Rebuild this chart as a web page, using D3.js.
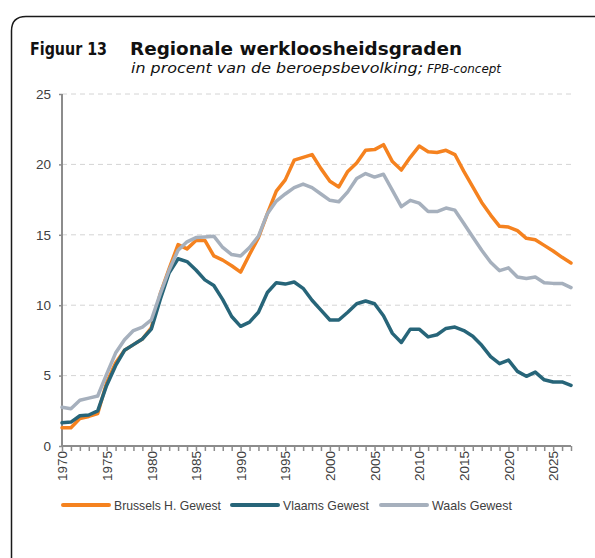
<!DOCTYPE html>
<html>
<head>
<meta charset="utf-8">
<script src="https://cdn.jsdelivr.net/npm/d3@7"></script>
<style>
  body { margin: 0; background: #fff; }
  svg { display: block; }
</style>
</head>
<body>
<div id="chart"></div>
<script>
// data, one value per year 1970-2027
var years = d3.range(1970, 2028);

var brussels = [1.3, 1.3, 1.95, 2.1, 2.3, 4.5, 5.9, 6.8, 7.2, 7.6,
  8.4, 10.8, 12.6, 14.3, 14.0, 14.6, 14.6, 13.5, 13.2, 12.8,
  12.35, 13.6, 14.8, 16.5, 18.1, 18.9, 20.3, 20.5, 20.7, 19.7,
  18.8, 18.4, 19.5, 20.1, 21.0, 21.05, 21.4, 20.2, 19.6, 20.5,
  21.3, 20.9, 20.85, 21.0, 20.7, 19.5, 18.4, 17.3, 16.4, 15.6,
  15.55, 15.3, 14.75, 14.65, 14.25, 13.85, 13.4, 13.0];

var vlaams = [1.65, 1.7, 2.15, 2.2, 2.5, 4.3, 5.7, 6.8, 7.2, 7.6,
  8.3, 10.4, 12.3, 13.3, 13.1, 12.5, 11.8, 11.4, 10.4, 9.2,
  8.5, 8.8, 9.5, 10.9, 11.6, 11.5, 11.65, 11.2, 10.35, 9.65,
  8.95, 8.95, 9.5, 10.1, 10.3, 10.1, 9.25, 8.0, 7.35, 8.3,
  8.3, 7.75, 7.9, 8.35, 8.45, 8.2, 7.8, 7.15, 6.35, 5.85,
  6.1, 5.3, 4.95, 5.25, 4.7, 4.55, 4.55, 4.3];

var waals = [2.75, 2.65, 3.25, 3.4, 3.55, 5.1, 6.6, 7.55, 8.2, 8.45,
  8.95, 10.8, 12.5, 13.9, 14.5, 14.8, 14.85, 14.9, 14.1, 13.6,
  13.5, 14.1, 14.9, 16.5, 17.4, 17.9, 18.35, 18.6, 18.35, 17.9,
  17.45, 17.35, 18.05, 19.0, 19.35, 19.1, 19.3, 18.15, 17.0, 17.45,
  17.25, 16.65, 16.65, 16.9, 16.75, 15.8, 14.85, 13.9, 13.05, 12.45,
  12.65, 12.0, 11.9, 12.0, 11.6, 11.55, 11.55, 11.25];

var seriesNames = ["Brussels H. Gewest", "Vlaams Gewest", "Waals Gewest"];
var seriesColors = ["#f5821f", "#276579", "#a6b0bd"];
var yTicks = [0, 5, 10, 15, 20, 25];

var W = 595, H = 558;
var margin = { top: 94, right: 24, bottom: 112, left: 62 },
    width = W - margin.left - margin.right,
    height = H - margin.top - margin.bottom;

var svg = d3.select("#chart").append("svg")
    .attr("width", W)
    .attr("height", H);

// frame with rounded top-left corner
svg.append("path")
    .attr("d", "M11.5," + (H + 2) + " L11.5,31 Q11.5,16.5 26,16.5 L" + (W + 2) + ",16.5")
    .attr("fill", "none")
    .attr("stroke", "#1a1a1a")
    .attr("stroke-width", 1.5);

// title
svg.append("text")
    .attr("x", 30).attr("y", 55)
    .attr("textLength", 77).attr("lengthAdjust", "spacingAndGlyphs")
    .style("font-family", "DejaVu Sans Condensed, DejaVu Sans")
    .style("font-weight", "bold")
    .style("font-size", "17.5px")
    .attr("fill", "#111")
    .text("Figuur 13");
svg.append("text")
    .attr("x", 130).attr("y", 55)
    .attr("textLength", 332).attr("lengthAdjust", "spacingAndGlyphs")
    .style("font-family", "DejaVu Sans")
    .style("font-weight", "bold")
    .style("font-size", "18px")
    .attr("fill", "#111")
    .text("Regionale werkloosheidsgraden");
var sub = svg.append("text")
    .attr("x", 131).attr("y", 73)
    .style("font-family", "DejaVu Sans")
    .style("font-style", "italic")
    .style("font-size", "13.5px")
    .attr("fill", "#111");
sub.append("tspan").attr("textLength", 292).attr("lengthAdjust", "spacingAndGlyphs")
    .text("in procent van de beroepsbevolking;");
sub.append("tspan").attr("x", 427).style("font-size", "12px")
    .attr("textLength", 74).attr("lengthAdjust", "spacingAndGlyphs")
    .text("FPB-concept");

var g = svg.append("g")
    .attr("transform", "translate(" + margin.left + "," + margin.top + ")");

var x = d3.scaleLinear().domain([1970, 2027]).range([0, width]);
var y = d3.scaleLinear().domain([0, 25]).range([height, 0]);

// dashed gridlines
g.selectAll(".grid")
    .data(yTicks.filter(function (d) { return d > 0; }))
    .enter().append("line")
    .attr("x1", 0).attr("x2", width)
    .attr("y1", function (d) { return y(d); })
    .attr("y2", function (d) { return y(d); })
    .attr("stroke", "#d4d4d4")
    .attr("stroke-width", 1)
    .attr("stroke-dasharray", "5,4");

// y axis
var yAxis = g.append("g")
    .call(d3.axisLeft(y).tickValues(yTicks).tickSize(3).tickPadding(8));
yAxis.select(".domain").attr("stroke", "#8c8c8c").attr("stroke-width", 2)
    .attr("d", "M0," + (height + 1) + "V0");
yAxis.selectAll(".tick line").attr("stroke", "#8c8c8c").attr("stroke-width", 1.5);
yAxis.selectAll("text")
    .style("font-family", "Liberation Sans, Arial")
    .style("font-size", "13.5px")
    .attr("fill", "#404040");

// x axis, one tick per year, labels every 5 years
var xAxis = g.append("g")
    .attr("transform", "translate(0," + height + ")")
    .call(d3.axisBottom(x).tickValues(years).tickSize(5)
      .tickFormat(function (d) { return d % 5 === 0 ? d : ""; }));
xAxis.select(".domain").attr("stroke", "#8c8c8c").attr("stroke-width", 2)
    .attr("d", "M0,0H" + width);
xAxis.selectAll(".tick line").attr("stroke", "#8c8c8c").attr("stroke-width", 1.5);
xAxis.selectAll("text")
    .style("font-family", "Liberation Sans, Arial")
    .style("font-size", "13.5px")
    .attr("fill", "#404040")
    .attr("text-anchor", "end")
    .attr("transform", "rotate(-90)")
    .attr("x", -5)
    .attr("y", 0)
    .attr("dy", "0.35em");

// lines
var allSeries = [brussels, vlaams, waals];
var line = d3.line()
    .x(function (d, i) { return x(years[i]); })
    .y(function (d) { return y(d); });

g.selectAll(".series")
    .data(allSeries)
    .enter().append("path")
    .attr("d", line)
    .attr("fill", "none")
    .attr("stroke", function (d, i) { return seriesColors[i]; })
    .attr("stroke-width", 3.5)
    .attr("stroke-linejoin", "round")
    .attr("stroke-linecap", "round");

// legend
var legendX = [63, 232, 381];
var legendLen = [107, 86, 80];
var legend = svg.selectAll(".legend")
    .data(seriesNames)
    .enter().append("g")
    .attr("transform", function (d, i) { return "translate(" + legendX[i] + ",505)"; });
legend.append("line")
    .attr("x1", 0).attr("x2", 46)
    .attr("stroke", function (d, i) { return seriesColors[i]; })
    .attr("stroke-width", 4)
    .attr("stroke-linecap", "round");
legend.append("text")
    .attr("x", 51).attr("dy", "0.35em")
    .attr("textLength", function (d, i) { return legendLen[i]; })
    .attr("lengthAdjust", "spacingAndGlyphs")
    .style("font-family", "Liberation Sans, Arial")
    .style("font-size", "13.5px")
    .attr("fill", "#404040")
    .text(function (d) { return d; });
</script>
</body>
</html>
